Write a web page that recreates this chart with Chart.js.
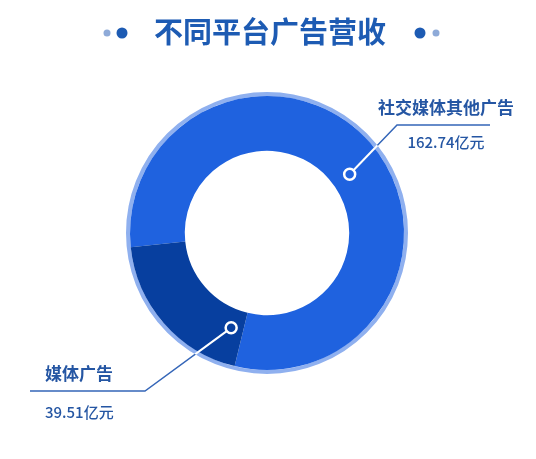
<!DOCTYPE html>
<html>
<head>
<meta charset="utf-8">
<script src="https://cdn.jsdelivr.net/npm/chart.js@4"></script>
<style>
  html, body { margin: 0; padding: 0; background: #fff; }
  canvas { display: block; }
</style>
</head>
<body>
<canvas id="myChart" width="536" height="459"></canvas>
<script>
// data
const title = "不同平台广告营收";
const categories = ["社交媒体其他广告", "媒体广告"];
const revenues = [162.74, 39.51];
const unit = "亿元";

const colors = ["#1f62df", "#073f9f"];
const labelColor = "#2556a3";

// where each callout sits: fraction along the slice, fraction across the ring, elbow and end of the leader
const callouts = [
    { along: 0.52, across: 0.35, elbow: [397, 125], end: [490, 125], textX: 446, align: "center", nameY: 108, valueY: 142 },
    { along: 0.10, across: 0.35, elbow: [145, 391], end: [30, 391], textX: 45, align: "left", nameY: 374, valueY: 412 }
];

const font = '"Noto Sans CJK SC", "Noto Sans", sans-serif';

const decorations = {
    id: "decorations",
    beforeDatasetsDraw(chart) {
        const arc = chart.getDatasetMeta(0).data[0];
        const ctx = chart.ctx;
        ctx.save();
        ctx.beginPath();
        ctx.arc(arc.x, arc.y, arc.outerRadius + 2, 0, Math.PI * 2);
        ctx.lineWidth = 4;
        ctx.strokeStyle = "#8fb0ef";
        ctx.stroke();
        ctx.restore();
    },
    afterDraw(chart) {
        const ctx = chart.ctx;
        const arcs = chart.getDatasetMeta(0).data;

        // title with dots
        ctx.save();
        ctx.font = "bold 29px " + font;
        ctx.fillStyle = "#1d5bb3";
        ctx.textAlign = "center";
        ctx.textBaseline = "middle";
        ctx.fillText(title, 270, 32);
        const dot = (x, r, c) => { ctx.beginPath(); ctx.arc(x, 33, r, 0, Math.PI * 2); ctx.fillStyle = c; ctx.fill(); };
        dot(107, 3.5, "#8eaad8");
        dot(122, 5.5, "#1d5bb3");
        dot(420, 5.5, "#1d5bb3");
        dot(436, 3.5, "#8eaad8");
        ctx.restore();

        arcs.forEach((a, i) => {
            const c = callouts[i];
            const ang = a.startAngle + (a.endAngle - a.startAngle) * c.along;
            const r = a.innerRadius + (a.outerRadius - a.innerRadius) * c.across;
            const mx = a.x + Math.cos(ang) * r;
            const my = a.y + Math.sin(ang) * r;

            ctx.save();
            ctx.lineWidth = 1.5;
            ctx.strokeStyle = "#3566b8";
            ctx.beginPath();
            ctx.moveTo(mx, my);
            ctx.lineTo(c.elbow[0], c.elbow[1]);
            ctx.lineTo(c.end[0], c.end[1]);
            ctx.stroke();

            // white part of the leader inside the ring
            ctx.save();
            ctx.beginPath();
            ctx.arc(a.x, a.y, a.outerRadius + 4, 0, Math.PI * 2);
            ctx.clip();
            ctx.strokeStyle = "#ffffff";
            ctx.lineWidth = 2;
            ctx.beginPath();
            ctx.moveTo(mx, my);
            ctx.lineTo(c.elbow[0], c.elbow[1]);
            ctx.stroke();
            ctx.restore();

            ctx.beginPath();
            ctx.arc(mx, my, 5.5, 0, Math.PI * 2);
            ctx.fillStyle = colors[i];
            ctx.fill();
            ctx.lineWidth = 2.5;
            ctx.strokeStyle = "#ffffff";
            ctx.stroke();

            ctx.fillStyle = labelColor;
            ctx.textAlign = c.align;
            ctx.textBaseline = "middle";
            ctx.font = "bold 17px " + font;
            ctx.fillText(categories[i], c.textX, c.nameY);
            ctx.font = "500 15px " + font;
            ctx.fillText(revenues[i].toFixed(2) + unit, c.textX, c.valueY);
            ctx.restore();
        });
    }
};

const ctx = document.getElementById("myChart");
const myChart = new Chart(ctx, {
    type: "doughnut",
    data: {
        labels: categories,
        datasets: [{
            data: revenues,
            backgroundColor: colors,
            borderWidth: 0
        }]
    },
    options: {
        responsive: false,
        animation: false,
        rotation: 264,
        cutout: "60%",
        layout: {
            padding: { left: 130, right: 132, top: 96, bottom: 89 }
        },
        plugins: {
            legend: { display: false },
            tooltip: { enabled: false }
        }
    },
    plugins: [decorations]
});
</script>
</body>
</html>
